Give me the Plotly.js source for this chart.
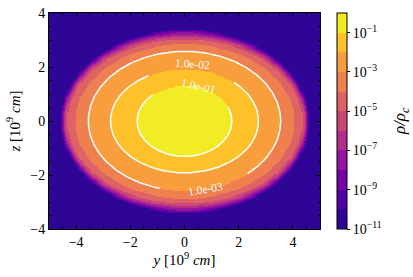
<!DOCTYPE html>
<html>
<head>
<meta charset="utf-8">
<script src="https://cdn.plot.ly/plotly-3.0.1.min.js"></script>
<style>html,body{margin:0;padding:0;background:#fff;}#chart{width:413px;height:277px;}</style>
</head>
<body>
<div id="chart"></div>
<script>
// ---- data ----
// decade levels of log10(rho/rho_c) and the semi-axes (10^9 cm) of each iso-density ellipse
const levelsLog  = [-1, -2, -3, -4, -5, -6, -7, -8, -9, -10, -11];
const semiAxisY  = [1.75, 2.73, 3.55, 4.04, 4.34, 4.42, 4.47, 4.51, 4.55, 4.59, 4.62];
const semiAxisZ  = [1.31, 1.92, 2.58, 2.86, 3.04, 3.14, 3.22, 3.29, 3.35, 3.40, 3.45];
// colours of the 11 decade bands, from 1e-11..1e-10 up to 1e-1..1e0 (plasma)
const bandColors = ['#2f0595', '#5102a2', '#7503a7', '#96159e', '#b32d8d', '#cc4778',
                    '#df6264', '#ee7f4f', '#f99e3c', '#fdc129', '#f2ec27'];
const cbTickVals = [-11, -9, -7, -5, -3, -1];
const cbTickText = ['10<sup>−11</sup>', '10<sup>−9</sup>', '10<sup>−7</sup>', '10<sup>−5</sup>', '10<sup>−3</sup>', '10<sup>−1</sup>'];
// labelled white contour lines
const lineLevels = [-1, -2, -3];
const lineLabels = ['1.0e-01', '1.0e-02', '1.0e-03'];

// ---- styling / placement (not data) ----
const labelAt   = [73, 84, -77.5];          // ellipse parameter (deg) of label
const gapFrom   = [23, 48, -105];           // line gap start (deg)
const gapTo     = [132, 119, -49];          // line gap end (deg)
const labelShift = [1, 5, 0];
const serif = 'Liberation Serif, Times New Roman, serif';

// ---- build grid field from the ellipse table ----
function logRho(y, z) {
  const r = Math.hypot(y, z);
  if (r === 0) return 0;
  const c = y / r, s = z / r;
  let prevR = 0, prevL = 0;
  for (let k = 0; k < levelsLog.length; k++) {
    const R = 1 / Math.sqrt((c / semiAxisY[k]) ** 2 + (s / semiAxisZ[k]) ** 2);
    if (r <= R) return prevL + (levelsLog[k] - prevL) * (r - prevR) / (R - prevR);
    prevR = R; prevL = levelsLog[k];
  }
  return Math.max(-13, prevL - (r - prevR) * 5);
}
const ys = [], zs = [];
for (let i = 0; i <= 250; i++) ys.push(-5 + i * 0.04);
for (let j = 0; j <= 200; j++) zs.push(-4 + j * 0.04);
const field = zs.map(z => ys.map(y => logRho(y, z)));

// stepped (discrete) colourscale over [-11, 0], one colour per decade
const nb = bandColors.length;
const cscale = [];
for (let k = 0; k < nb; k++) {
  cscale.push([k / nb, bandColors[k]]);
  cscale.push([(k + 1) / nb, bandColors[k]]);
}

const traces = [{
  type: 'heatmap', x: ys, y: zs, z: field,
  zmin: levelsLog[nb - 1], zmax: 0, zsmooth: 'best',
  colorscale: cscale,
  hoverinfo: 'skip',
  colorbar: {
    thickness: 10, len: 1, lenmode: 'fraction', y: 0.5, yanchor: 'middle', ypad: 0,
    x: 1.063, xanchor: 'left', xpad: 0,
    outlinewidth: 1, outlinecolor: '#000',
    tickmode: 'array', tickvals: cbTickVals, ticktext: cbTickText,
    ticks: 'outside', ticklen: 3, tickcolor: '#000',
    tickfont: {family: serif, size: 14, color: '#000'}
  }
}];

const annotations = [];
lineLevels.forEach((lv, n) => {
  const k = levelsLog.indexOf(lv);
  const a = semiAxisY[k], b = semiAxisZ[k];
  const xs = [], zz = [];
  const t0 = gapTo[n], t1 = gapFrom[n] + 360;
  for (let t = t0; t <= t1 + 1e-9; t += 1) {
    const rad = t * Math.PI / 180;
    xs.push(a * Math.cos(rad)); zz.push(b * Math.sin(rad));
  }
  traces.push({type: 'scatter', mode: 'lines', x: xs, y: zz,
    line: {color: '#ffffff', width: 1.5}, hoverinfo: 'skip', showlegend: false});
  const tl = labelAt[n] * Math.PI / 180;
  const dx = -a * Math.sin(tl) * 27.1, dy = -b * Math.cos(tl) * 27.0;
  let ang = Math.atan2(dy, dx) * 180 / Math.PI;
  if (dx < 0) ang = Math.atan2(-dy, -dx) * 180 / Math.PI;
  annotations.push({x: a * Math.cos(tl), y: b * Math.sin(tl), xref: 'x', yref: 'y',
    text: lineLabels[n], showarrow: false, textangle: ang, yshift: labelShift[n],
    font: {family: serif, size: 11.5, color: '#ffffff'}});
});
// colour-bar title
annotations.push({x: 1.299, y: 0.5, xref: 'paper', yref: 'paper', xanchor: 'center', yanchor: 'middle',
  text: '<i>ρ/ρ<sub>c</sub></i>', textangle: -90, showarrow: false,
  font: {family: serif, size: 17, color: '#000'}});

const axisCommon = {
  ticks: 'inside', ticklen: 4, tickwidth: 1, tickcolor: '#000',
  minor: {dtick: 0.5, ticks: 'inside', ticklen: 2, tickcolor: '#000', showgrid: false},
  mirror: 'allticks', showline: true, linecolor: '#000', linewidth: 1,
  showgrid: false, zeroline: false, dtick: 2, tick0: 0,
  tickfont: {family: serif, size: 14, color: '#000'}
};

const layout = {
  width: 413, height: 277,
  margin: {l: 49, r: 93, t: 13, b: 48, pad: 0},
  paper_bgcolor: '#fff', plot_bgcolor: '#2f0595',
  showlegend: false,
  xaxis: Object.assign({}, axisCommon, {range: [-5, 5],
    title: {text: '<i>y</i> [10<sup>9</sup> <i>cm</i>]', standoff: 5, font: {family: serif, size: 15, color: '#000'}}}),
  yaxis: Object.assign({}, axisCommon, {range: [-4, 4],
    title: {text: '<i>z</i> [10<sup>9</sup> <i>cm</i>]', standoff: 6, font: {family: serif, size: 15, color: '#000'}}}),
  annotations: annotations
};

Plotly.newPlot('chart', traces, layout, {displayModeBar: false, staticPlot: true});
</script>
</body>
</html>
